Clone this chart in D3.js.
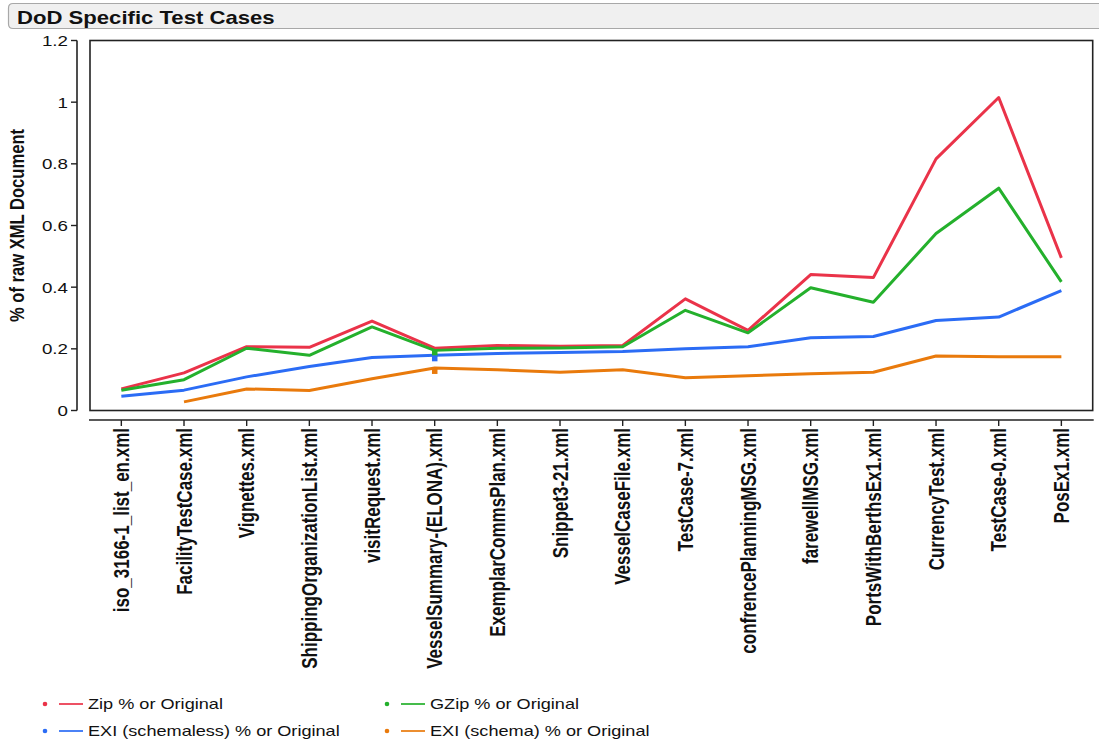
<!DOCTYPE html>
<html>
<head>
<meta charset="utf-8">
<script src="https://cdn.jsdelivr.net/npm/d3@7"></script>
<style>
  body { margin: 0; background: #fff; }
  svg { display: block; font-family: "Liberation Sans", Arial, sans-serif; }
</style>
</head>
<body>
<svg id="chart" width="1099" height="742"></svg>
<script>
const files = [
  "iso_3166-1_list_en.xml", "FacilityTestCase.xml", "Vignettes.xml",
  "ShippingOrganizationList.xml", "visitRequest.xml", "VesselSummary-(ELONA).xml",
  "ExemplarCommsPlan.xml", "Snippet3-21.xml", "VesselCaseFile.xml", "TestCase-7.xml",
  "confrencePlanningMSG.xml", "farewellMSG.xml", "PortsWithBerthsEx1.xml",
  "CurrencyTest.xml", "TestCase-0.xml", "PosEx1.xml"
];

const zipValues = [0.070, 0.122, 0.207, 0.205, 0.290, 0.202, 0.211, 0.208, 0.211, 0.362, 0.260, 0.441, 0.431, 0.816, 1.015, 0.495];
const gzipValues = [0.066, 0.100, 0.202, 0.179, 0.271, 0.195, 0.202, 0.203, 0.207, 0.325, 0.252, 0.398, 0.351, 0.574, 0.721, 0.417];
const exiSchemalessValues = [0.046, 0.066, 0.109, 0.143, 0.172, 0.179, 0.185, 0.188, 0.191, 0.200, 0.207, 0.236, 0.240, 0.292, 0.303, 0.389];
const exiSchemaValues = [null, 0.028, 0.070, 0.065, 0.103, 0.138, 0.132, 0.124, 0.132, 0.106, 0.113, 0.119, 0.124, 0.177, 0.174, 0.174];

const yTicks = [0, 0.2, 0.4, 0.6, 0.8, 1, 1.2];

const series = [
  { label: "Zip % or Original", color: "#ea3349", values: zipValues },
  { label: "GZip % or Original", color: "#24b02c", values: gzipValues },
  { label: "EXI (schemaless) % or Original", color: "#2b6cf5", values: exiSchemalessValues },
  { label: "EXI (schema) % or Original", color: "#e97a0c", values: exiSchemaValues }
];

// the picture is stretched horizontally, so text gets the same stretch
const sx = 1.25;
const svg = d3.select("#chart");

const frame = { left: 90, right: 1092.7, top: 40.5, bottom: 410.5 };

const x = d3.scalePoint()
  .domain(files)
  .range([frame.left, frame.right])
  .padding(0.5);

const y = d3.scaleLinear()
  .domain([0, 1.2])
  .range([frame.bottom, frame.top]);

// title bar
svg.append("path")
  .attr("d", "M1100,3.5 H13 Q8.5,3.5 8.5,8 V24 Q8.5,28.5 13,28.5 H1100")
  .attr("fill", "#f0f0f0")
  .attr("stroke", "#a8a8a8")
  .attr("stroke-width", 1.2);

svg.append("text")
  .attr("transform", "translate(17,24) scale(" + sx + ",1)")
  .attr("font-size", 17.7)
  .attr("font-weight", "bold")
  .attr("fill", "#111")
  .text("DoD Specific Test Cases");

// plot frame
svg.append("rect")
  .attr("x", frame.left)
  .attr("y", frame.top)
  .attr("width", frame.right - frame.left)
  .attr("height", frame.bottom - frame.top)
  .attr("fill", "none")
  .attr("stroke", "#222")
  .attr("stroke-width", 1.6);

// y axis
const yAxis = svg.append("g");
yAxis.append("line")
  .attr("x1", 77).attr("x2", 77)
  .attr("y1", y(1.2)).attr("y2", y(0))
  .attr("stroke", "#222").attr("stroke-width", 1.6);

yAxis.selectAll("line.tick")
  .data(yTicks)
  .join("line")
  .attr("class", "tick")
  .attr("x1", 71).attr("x2", 77)
  .attr("y1", (d) => y(d)).attr("y2", (d) => y(d))
  .attr("stroke", "#222").attr("stroke-width", 1.4);

yAxis.selectAll("text")
  .data(yTicks)
  .join("text")
  .attr("transform", (d) => `translate(68,${y(d)}) scale(${sx},1)`)
  .attr("text-anchor", "end")
  .attr("dy", "0.36em")
  .attr("font-size", 15)
  .attr("fill", "#111")
  .text((d) => d3.format("~g")(d));

svg.append("text")
  .attr("transform", `translate(17,${(frame.top + frame.bottom) / 2}) scale(${sx},1) rotate(-90)`)
  .attr("text-anchor", "middle")
  .attr("dy", "0.36em")
  .attr("font-size", 16.6)
  .attr("font-weight", "bold")
  .attr("fill", "#111")
  .text("% of raw XML Document");

// x axis
const xAxis = svg.append("g");
xAxis.append("line")
  .attr("x1", frame.left - 1).attr("x2", frame.right + 1)
  .attr("y1", 420).attr("y2", 420)
  .attr("stroke", "#222").attr("stroke-width", 1.6);

xAxis.selectAll("line.tick")
  .data(files)
  .join("line")
  .attr("class", "tick")
  .attr("x1", (d) => x(d)).attr("x2", (d) => x(d))
  .attr("y1", 420).attr("y2", 426)
  .attr("stroke", "#222").attr("stroke-width", 1.4);

xAxis.selectAll("text")
  .data(files)
  .join("text")
  .attr("transform", (d) => `translate(${x(d)},428) scale(${sx},1) rotate(-90)`)
  .attr("text-anchor", "end")
  .attr("dy", "0.36em")
  .attr("font-size", 17)
  .attr("font-weight", "bold")
  .attr("fill", "#111")
  .text((d) => d);

// lines
const line = d3.line()
  .defined((d) => d != null)
  .x((d, i) => x(files[i]))
  .y((d) => y(d));

svg.selectAll("path.series")
  .data(series)
  .join("path")
  .attr("class", "series")
  .attr("d", (d) => line(d.values))
  .attr("fill", "none")
  .attr("stroke", (d) => d.color)
  .attr("stroke-width", 3)
  .attr("stroke-linejoin", "round");

// small square markers at the VesselSummary point
const marked = files[5];
svg.selectAll("rect.marker")
  .data(series.slice(1))
  .join("rect")
  .attr("class", "marker")
  .attr("x", x(marked) - 2.7)
  .attr("y", (d) => y(d.values[5]))
  .attr("width", 5.5)
  .attr("height", 6)
  .attr("fill", (d) => d.color);

// legend
const legend = svg.append("g");
const legendItems = legend.selectAll("g")
  .data(series)
  .join("g")
  .attr("transform", (d, i) => `translate(${i % 2 === 0 ? 45 : 387},${i < 2 ? 704 : 731})`);

legendItems.append("circle")
  .attr("r", 2.3)
  .attr("fill", (d) => d.color);

legendItems.append("line")
  .attr("x1", 14).attr("x2", 38)
  .attr("y1", 0).attr("y2", 0)
  .attr("stroke", (d) => d.color)
  .attr("stroke-opacity", 0.85)
  .attr("stroke-width", 2);

legendItems.append("text")
  .attr("transform", `translate(43,0) scale(${sx},1)`)
  .attr("dy", "0.36em")
  .attr("font-size", 14.5)
  .attr("fill", "#111")
  .text((d) => d.label);
</script>
</body>
</html>
